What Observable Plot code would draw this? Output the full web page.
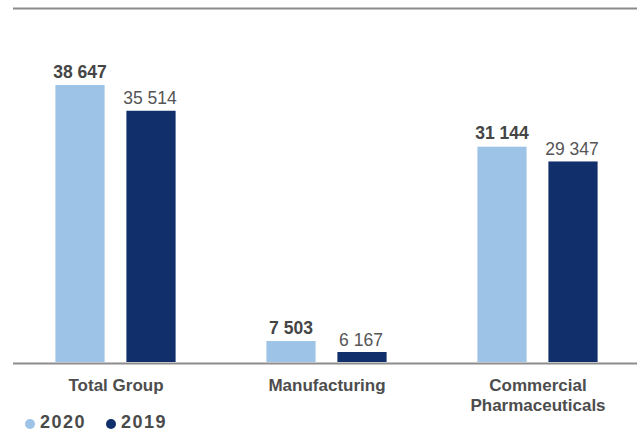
<!DOCTYPE html>
<html>
<head>
<meta charset="utf-8">
<script src="https://cdn.jsdelivr.net/npm/d3@7"></script>
<script src="https://cdn.jsdelivr.net/npm/@observablehq/plot@0.6"></script>
<style>
  html, body { margin: 0; padding: 0; background: #fff; }
  body { position: relative; width: 637px; height: 433px; overflow: hidden; font-family: "Liberation Sans", Arial, sans-serif; }
  #chart { position: absolute; top: 0; left: 0; }
  #legend { position: absolute; top: 412px; left: 25px; display: flex; align-items: center; height: 20px; font-size: 18px; line-height: 20px; font-weight: bold; color: #4a4a4a; letter-spacing: 1.5px; }
  #legend .item { display: flex; align-items: center; margin-right: 20px; }
  #legend .sw { width: 10px; height: 10px; border-radius: 50%; margin-right: 5px; position: relative; top: 1.5px; }
</style>
</head>
<body>
<div id="chart"></div>
<div id="legend"></div>
<script>
// Data
const categories = ["Total Group", "Manufacturing", "Commercial\nPharmaceuticals"];
const years = ["2020", "2019"];
const values2020 = [38647, 7503, 31144];
const values2019 = [35514, 6167, 29347];
const colors = { "2020": "#9dc3e6", "2019": "#112f6b" };

// scale bounds (axis is cut off above zero in the original)
const yMin = 4951;
const yMax = 48015;

const data2020 = categories.map((c, i) => ({ category: c, year: "2020", value: values2020[i] }));
const data2019 = categories.map((c, i) => ({ category: c, year: "2019", value: values2019[i] }));
const fmt = v => d3.format(",")(v).replace(/,/g, " ");

const chart = Plot.plot({
  width: 637,
  height: 410,
  marginTop: 8,
  marginBottom: 48,
  marginLeft: 13,
  marginRight: 0,
  style: { fontFamily: "'Liberation Sans', Arial, sans-serif", background: "transparent", overflow: "visible" },
  x: { type: "band", domain: categories, range: [8.6, 644], padding: 0, axis: null },
  y: { domain: [yMin, yMax], axis: null },
  marks: [
    Plot.ruleY([yMax], { stroke: "#8a8a8a", strokeWidth: 2 }),
    Plot.barY(data2020, { x: "category", y: "value", fill: colors["2020"], insetLeft: 45.4, insetRight: 116.4, clip: true }),
    Plot.barY(data2019, { x: "category", y: "value", fill: colors["2019"], insetLeft: 116.4, insetRight: 45.4, clip: true }),
    Plot.ruleY([yMin], { stroke: "#8c8c8c", strokeWidth: 2, dy: 1 }),
    Plot.text(data2020, { x: "category", y: "value", text: d => fmt(d.value), dx: -36, dy: -8, lineAnchor: "bottom", fontSize: 17.5, fontWeight: "bold", fill: "#454545" }),
    Plot.text(data2019, { x: "category", y: "value", text: d => fmt(d.value), dx: 34, dy: -7, lineAnchor: "bottom", fontSize: 17.5, fill: "#555555" }),
    Plot.text(categories, { x: d => d, text: d => d, frameAnchor: "bottom", lineAnchor: "top", dy: 14, fontSize: 17, fontWeight: "bold", lineHeight: 1.2, fill: "#4d4d4d" })
  ]
});
document.getElementById("chart").appendChild(chart);

// Legend
const legend = document.getElementById("legend");
years.forEach(y => {
  const item = document.createElement("div");
  item.className = "item";
  const sw = document.createElement("span");
  sw.className = "sw";
  sw.style.background = colors[y];
  const label = document.createElement("span");
  label.textContent = y;
  item.appendChild(sw);
  item.appendChild(label);
  legend.appendChild(item);
});
</script>
</body>
</html>
